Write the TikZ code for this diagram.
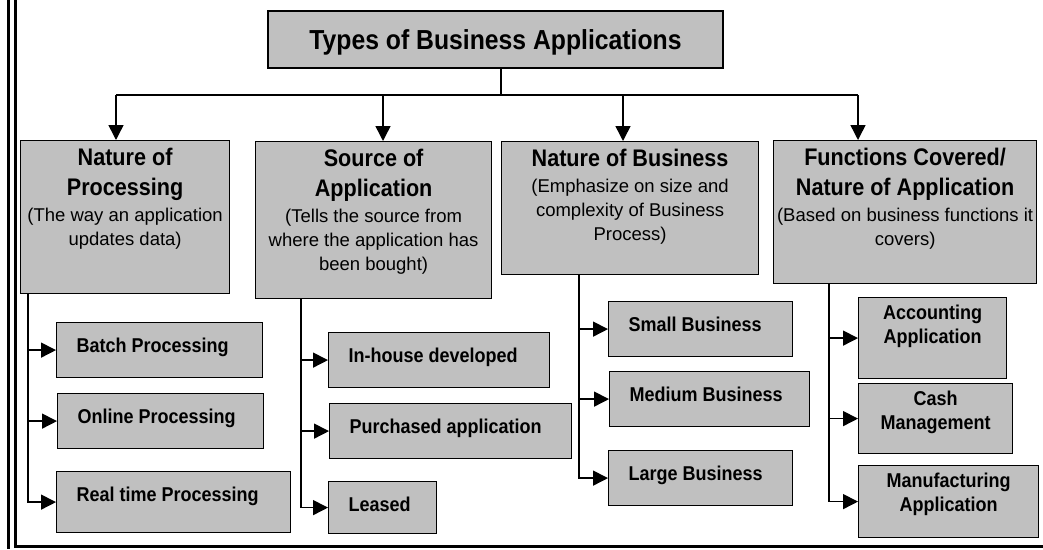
\documentclass[tikz,border=0pt]{standalone}
\usepackage{fontspec}
\setmainfont{Liberation Sans}
\newfontfamily\narrowsans[FakeStretch=0.9]{Liberation Sans}
\usepackage{tikz}
\usetikzlibrary{
	arrows.meta,
	positioning,
	calc
}
\usepackage{xcolor}
\definecolor{boxgray}{HTML}{C0C0C0}

\newcommand{\headfont}{\narrowsans\fontsize{24}{30}\selectfont\bfseries}
\newcommand{\subfont}{\fontsize{18.5}{24}\selectfont}
\newcommand{\childfont}{\narrowsans\fontsize{20}{24}\selectfont\bfseries}
% #1 width, #2 height, #3 heading, #4 remark
\newcommand{\headbox}[4]{\parbox[c][#2][t]{#1}{\centering\vspace*{8pt}{\headfont #3\par}\vspace{2pt}{\subfont #4\par}}}
\newcommand{\leafbox}[3]{\parbox[c][#2][t]{#1}{\raggedright\vspace*{15pt}\hspace*{20pt}\childfont #3\par}}
\newcommand{\leafboxc}[3]{\parbox[c][#2][t]{#1}{\centering\vspace*{7pt}\childfont #3\par}}

\begin{document}
\begin{tikzpicture}[x=1pt,y=-1pt,
		box/.style={draw=black, line width=1.2pt, fill=boxgray, inner sep=0pt, anchor=north west},
		link/.style={line width=1.5pt},
		arr/.style={line width=1.5pt, -{Triangle[length=15pt,width=15pt]}}
	]
		\useasboundingbox (0,0) rectangle (1043,549);
		
		% frame
		\draw[line width=3pt] (8,0) -- (8,549);
		\draw[line width=2.5pt] (15.5,0) -- (15.5,546.5) -- (1043,546.5);
		
		\node[box, anchor=center, minimum width=455pt, minimum height=57pt, text depth=0pt,
		font=\narrowsans\fontsize{27.5}{30}\selectfont\bfseries] (types) at (495.5,39.5) {Types of Business Applications};
		
		\node[box] (nproc) at (20,140) {\headbox{209pt}{153pt}{Nature of\\Processing}{(The way an application\\updates data)}};
		\node[box] (source) at (255,141) {\headbox{236pt}{157pt}{Source of\\Application}{(Tells the source from\\where the application has\\been bought)}};
		\node[box] (nbus) at (501,141) {\headbox{257pt}{133pt}{Nature of Business}{(Emphasize on size and\\complexity of Business\\Process)}};
		\node[box] (func) at (773,140) {\headbox{263pt}{143pt}{Functions Covered/\\Nature of Application}{(Based on business functions it\\covers)}};
		
		\node[box] (batch) at (56,322) {\leafbox{206pt}{55pt}{Batch Processing}};
		\node[box] (online) at (57,393) {\leafbox{206pt}{55pt}{Online Processing}};
		\node[box] (realtime) at (56,471) {\leafbox{234pt}{61pt}{Real time Processing}};
		
		\node[box] (inhouse) at (328,332) {\leafbox{221pt}{55pt}{In-house developed}};
		\node[box] (purchased) at (329,403) {\leafbox{242pt}{55pt}{Purchased application}};
		\node[box] (leased) at (328,481) {\leafbox{108pt}{52pt}{Leased}};
		
		\node[box] (small) at (608,301) {\leafbox{184pt}{55pt}{Small Business}};
		\node[box] (medium) at (609,371) {\leafbox{200pt}{55pt}{Medium Business}};
		\node[box] (large) at (608,450) {\leafbox{184pt}{55pt}{Large Business}};
		
		\node[box] (accounting) at (858,297) {\leafboxc{148pt}{81pt}{Accounting\\Application}};
		\node[box] (cash) at (858,383) {\leafboxc{154pt}{70pt}{Cash\\Management}};
		\node[box] (manuf) at (858,465) {\leafboxc{180pt}{72pt}{Manufacturing\\Application}};
		
		% bus below the title
		\coordinate (bus) at (501,95);
		\coordinate (b1) at (116,95);
		\coordinate (b2) at (383,95);
		\coordinate (b3) at (623,95);
		\coordinate (b4) at (858,95);
		\draw[link] (types.south -| bus) -- (bus);
		\draw[link] (b1) -- (b4);
		\draw[arr] (b1) -- (b1 |- nproc.north);
		\draw[arr] (b2) -- (b2 |- source.north);
		\draw[arr] (b3) -- (b3 |- nbus.north);
		\draw[arr] (b4) -- (b4 |- func.north);
		
		% trunks
		\coordinate (t1) at (28,0);
		\coordinate (t2) at (301,0);
		\coordinate (t3) at (579,0);
		\coordinate (t4) at (829,0);
		\foreach \c in {batch,online,realtime}
		\draw[arr] (nproc.south -| t1) |- (\c.west);
		\foreach \c in {inhouse,purchased,leased}
		\draw[arr] (source.south -| t2) |- (\c.west);
		\foreach \c in {small,medium,large}
		\draw[arr] (nbus.south -| t3) |- (\c.west);
		\foreach \c in {accounting,cash,manuf}
		\draw[arr] (func.south -| t4) |- (\c.west);
		
	\end{tikzpicture}
\end{document}
